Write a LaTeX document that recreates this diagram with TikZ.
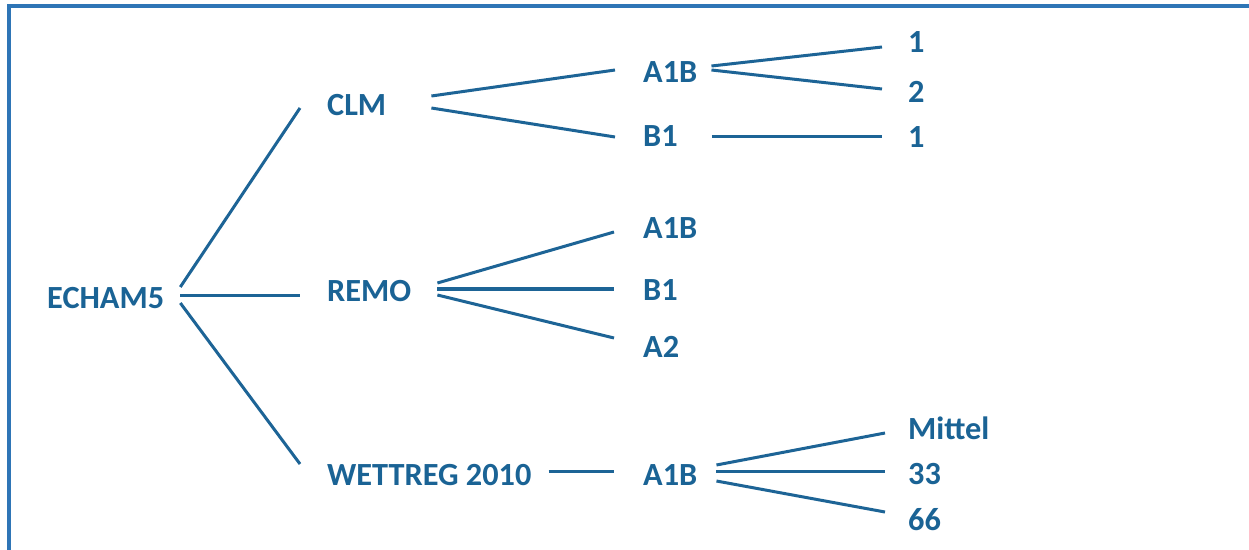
\documentclass[tikz,border=0pt]{standalone}
\usepackage{fontspec}
\setmainfont{Carlito}
\definecolor{txtblue}{HTML}{1A6395}
\definecolor{lineblue}{HTML}{1D6496}
\definecolor{frameblue}{HTML}{2E75B6}
\tikzset{
  lbl/.style={anchor=base west, inner sep=0pt, text=txtblue, font=\fontsize{32.3}{37}\selectfont\bfseries},
  conn/.style={draw=lineblue, line width=3pt},
  thickconn/.style={draw=lineblue, line width=4.6pt}
}
\begin{document}
\begin{tikzpicture}[x=1pt,y=-1pt]
\useasboundingbox (0,0) rectangle (1249,549);
\clip (0,0) rectangle (1249,549);
\fill[white] (0,0) rectangle (1249,549);
\draw[frameblue, line width=4pt] (9,560) -- (9,6) -- (1260,6);
% nodes
\node[lbl] (echam) at (47,308) {ECHAM5};
\node[lbl] (clm) at (327,115) {CLM};
\node[lbl] (remo) at (327,301) {REMO};
\node[lbl] (wett) at (327,485) {WETTREG 2010};
\node[lbl] (a1bC) at (643,82) {A1B};
\node[lbl] (b1C) at (643,146) {B1};
\node[lbl] (a1bR) at (643,238) {A1B};
\node[lbl] (b1R) at (643,300) {B1};
\node[lbl] (a2R) at (643,357) {A2};
\node[lbl] (a1bW) at (643,485) {A1B};
\node[lbl] (n1) at (908,52) {1};
\node[lbl] (n2) at (908,102) {2};
\node[lbl] (n3) at (908,147) {1};
\node[lbl] (mittel) at (908,439) {Mittel};
\node[lbl] (n33) at (908,484) {33};
\node[lbl] (n66) at (908,530) {66};
% connectors
\draw[conn] ([shift={(16,-21)}]echam.base east) -- ([shift={(-27,-7)}]clm.base west);
\draw[conn] ([shift={(16,-13)}]echam.base east) -- ([shift={(-27,-6)}]remo.base west);
\draw[conn] ([shift={(16,-5)}]echam.base east) -- ([shift={(-27,-21)}]wett.base west);
\draw[conn] ([shift={(45,-19)}]clm.base east) -- ([shift={(-28,-12)}]a1bC.base west);
\draw[conn] ([shift={(45,-7)}]clm.base east) -- ([shift={(-28,-9)}]b1C.base west);
\draw[conn] ([shift={(14,-16)}]a1bC.base east) -- ([shift={(-26,-5)}]n1.base west);
\draw[conn] ([shift={(14,-12)}]a1bC.base east) -- ([shift={(-26,-13)}]n2.base west);
\draw[conn] ([shift={(34,-10)}]b1C.base east) -- ([shift={(-26,-11)}]n3.base west);
\draw[conn] ([shift={(26,-18)}]remo.base east) -- ([shift={(-29,-6)}]a1bR.base west);
\draw[thickconn] ([shift={(26,-12)}]remo.base east) -- ([shift={(-29,-11)}]b1R.base west);
\draw[conn] ([shift={(26,-6)}]remo.base east) -- ([shift={(-29,-19)}]a2R.base west);
\draw[conn] ([shift={(17,-14)}]wett.base east) -- ([shift={(-29,-14)}]a1bW.base west);
\draw[conn] ([shift={(19,-20)}]a1bW.base east) -- ([shift={(-23,-6)}]mittel.base west);
\draw[conn] ([shift={(19,-14)}]a1bW.base east) -- ([shift={(-23,-13)}]n33.base west);
\draw[conn] ([shift={(19,-4)}]a1bW.base east) -- ([shift={(-23,-18)}]n66.base west);
\end{tikzpicture}
\end{document}
